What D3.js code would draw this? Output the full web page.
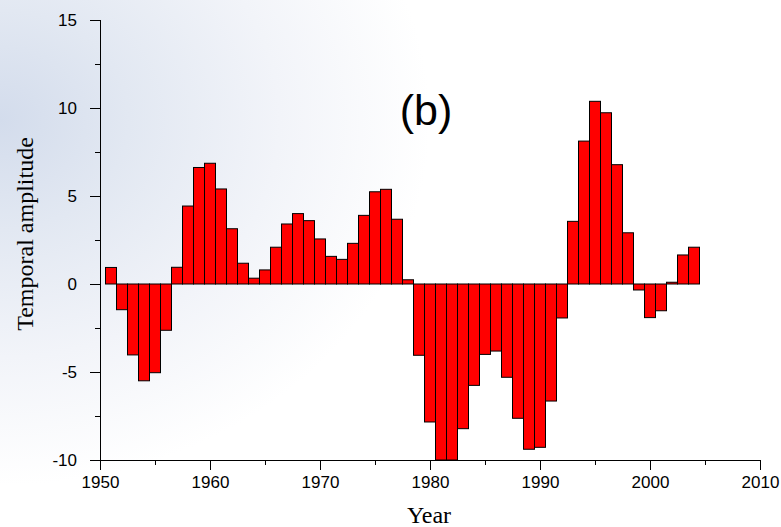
<!DOCTYPE html>
<html><head><meta charset="utf-8">
<script src="https://cdn.jsdelivr.net/npm/d3@7"></script>
<style>body{margin:0;background:#fff}svg{display:block}</style>
</head><body>
<svg id="c" width="781" height="527"></svg>
<script>
const years = d3.range(1951, 2005);
const values = [0.94,-1.46,-4.03,-5.5,-5.04,-2.63,0.95,4.43,6.62,6.86,5.4,3.14,1.18,0.33,0.8,2.09,3.41,4.0,3.6,2.56,1.57,1.4,2.31,3.9,5.24,5.38,3.68,0.24,-4.05,-7.84,-10,-10,-8.22,-5.76,-4.0,-3.81,-5.3,-7.63,-9.39,-9.28,-6.65,-1.93,3.56,8.12,10.38,9.73,6.78,2.91,-0.34,-1.91,-1.52,0.1,1.65,2.09];
const xMajor = [1950,1960,1970,1980,1990,2000,2010];
const xMinor = [1955,1965,1975,1985,1995,2005];
const yMajor = [15,10,5,0,-5,-10];
const yMinor = [12.5,7.5,2.5,-2.5,-7.5];

const svg = d3.select("#c");
const defs = svg.append("defs");
const g1 = defs.append("radialGradient").attr("id","bg").attr("gradientUnits","userSpaceOnUse")
  .attr("cx",0).attr("cy",120).attr("r",430).attr("gradientTransform","translate(0,120) scale(1,0.85) translate(0,-120)");
g1.append("stop").attr("offset","0").attr("stop-color","#d3dcec");
g1.append("stop").attr("offset","0.3").attr("stop-color","#e2e8f2");
g1.append("stop").attr("offset","0.65").attr("stop-color","#f2f4f9");
g1.append("stop").attr("offset","1").attr("stop-color","#ffffff");
svg.append("rect").attr("width",781).attr("height",527).attr("fill","url(#bg)");

const x = d3.scaleLinear().domain([1950,2010]).range([100,760]);
const y = d3.scaleLinear().domain([-10,15]).range([460,20]);

svg.append("g").selectAll("rect").data(years).join("rect")
  .attr("x", d => x(d - 0.5))
  .attr("width", d => x(d + 0.5) - x(d - 0.5))
  .attr("y", (d,i) => y(Math.max(0, values[i])))
  .attr("height", (d,i) => Math.abs(y(values[i]) - y(0)))
  .attr("fill", "#ff0000").attr("stroke", "#000").attr("stroke-width", 1);

const font = "'Liberation Sans', Arial, sans-serif";
const fmt = d => String(d);
const xa = svg.append("g").attr("transform","translate(0,460)")
  .call(d3.axisBottom(x).tickValues(xMajor).tickFormat(fmt).tickSize(10).tickPadding(6));
svg.append("g").attr("transform","translate(0,460)")
  .call(d3.axisBottom(x).tickValues(xMinor).tickFormat("").tickSize(5)).select(".domain").remove();
const ya = svg.append("g").attr("transform","translate(100,0)")
  .call(d3.axisLeft(y).tickValues(yMajor).tickFormat(fmt).tickSize(10).tickPadding(13));
svg.append("g").attr("transform","translate(100,0)")
  .call(d3.axisLeft(y).tickValues(yMinor).tickFormat("").tickSize(5)).select(".domain").remove();
svg.selectAll(".tick text").attr("font-family", font).attr("font-size", 17).attr("fill","#000");
svg.selectAll(".tick line, .domain").attr("stroke","#000");
xa.select(".domain").attr("d","M100,0.5H760");
ya.select(".domain").attr("d","M0.5,20V460");

svg.append("text").attr("x",429).attr("y",523).attr("text-anchor","middle")
  .attr("font-family","'Liberation Serif', 'Times New Roman', serif").attr("font-size",24).text("Year");
svg.append("text").attr("transform","translate(33,234) rotate(-90)").attr("text-anchor","middle")
  .attr("font-family","'Liberation Serif', 'Times New Roman', serif").attr("font-size",24).text("Temporal amplitude");
svg.append("text").attr("x",426).attr("y",125).attr("text-anchor","middle")
  .attr("font-family",font).attr("font-size",43).text("(b)");
</script>
</body></html>
